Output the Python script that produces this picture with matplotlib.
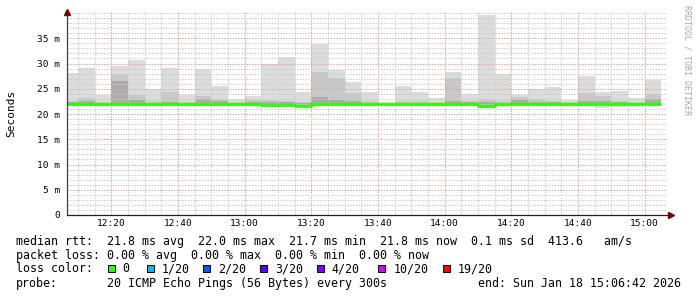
import matplotlib
matplotlib.use("Agg")
import matplotlib.pyplot as plt
from matplotlib.patches import Rectangle
import numpy as np

# 5-minute bins, start time in minutes after 12:00 (12:05 ... 15:00)
bin_start = np.arange(5, 185, 5)

# smoke: highest ping, upper band, inner band, lowest ping, median (ms)
rtt_max = [28.1, 29.1, 23.7, 29.6, 30.6, 24.9, 29.2, 23.7, 28.9, 25.5, 22.9, 23.5,
           30.0, 31.2, 24.3, 33.9, 28.7, 26.3, 24.3, 22.3, 25.5, 24.3, 23.1, 28.3,
           24.0, 39.6, 27.9, 23.8, 24.9, 25.3, 22.8, 27.6, 24.3, 24.6, 23.1, 26.7]
rtt_mid = [22.6, 23.1, 22.4, 28.0, 23.7, 22.5, 24.3, 22.3, 23.6, 23.0, 22.4, 22.8,
           22.8, 22.6, 22.4, 28.3, 27.1, 24.1, 22.6, 22.1, 22.5, 22.5, 22.4, 27.1,
           22.6, 22.9, 22.5, 23.3, 22.9, 22.6, 22.4, 24.1, 23.5, 22.6, 22.3, 24.0]
rtt_inner = [22.3, 22.5, 22.2, 26.5, 22.8, 22.2, 22.3, 22.1, 23.0, 22.5, 22.2, 22.4,
             22.4, 22.3, 22.2, 23.3, 22.8, 22.6, 22.2, 22.0, 22.2, 22.2, 22.1, 22.6,
             22.3, 22.3, 22.2, 22.8, 22.4, 22.3, 22.2, 22.6, 22.6, 22.3, 22.1, 23.0]
rtt_min = [21.6, 21.6, 21.6, 21.6, 21.6, 21.6, 21.6, 21.6, 21.6, 21.6, 21.6, 21.6,
           21.3, 21.3, 21.3, 21.5, 21.5, 21.6, 21.6, 21.6, 21.6, 21.6, 21.6, 21.6,
           21.6, 21.2, 21.5, 21.6, 21.6, 21.6, 21.6, 21.5, 21.2, 21.4, 21.6, 21.6]
rtt_median = [21.9, 21.9, 21.9, 21.9, 21.9, 21.9, 21.9, 21.9, 21.9, 21.9, 21.9, 21.9,
              21.7, 21.7, 21.6, 21.9, 21.9, 21.9, 21.9, 21.9, 21.9, 21.9, 21.9, 21.9,
              22.0, 21.6, 21.9, 21.9, 21.9, 21.9, 21.9, 21.9, 21.9, 21.9, 21.9, 21.9]

x_ticks = [20, 40, 60, 80, 100, 120, 140, 160, 180]
x_labels = ["12:20", "12:40", "13:00", "13:20", "13:40", "14:00", "14:20", "14:40", "15:00"]
y_ticks = [0, 5, 10, 15, 20, 25, 30, 35]
y_labels = ["0", "5 m", "10 m", "15 m", "20 m", "25 m", "30 m", "35 m"]

loss_labels = ["0", "1/20", "2/20", "3/20", "4/20", "10/20", "19/20"]
loss_colors = ["#26ff00", "#00b8ff", "#0059ff", "#5e00ff", "#7e00ff", "#dd00ff", "#ff0000"]

legend_lines = [
    "median rtt:  21.8 ms avg  22.0 ms max  21.7 ms min  21.8 ms now  0.1 ms sd  413.6   am/s",
    "packet loss: 0.00 % avg  0.00 % max  0.00 % min  0.00 % now",
    "loss color:",
    "probe:",
]
probe_text = "20 ICMP Echo Pings (56 Bytes) every 300s"
end_text = "end: Sun Jan 18 15:06:42 2026"

W, H = 697, 297
mono = "DejaVu Sans Mono"

fig = plt.figure(figsize=(W / 100, H / 100), dpi=100)
fig.patch.set_facecolor("white")
ax = fig.add_axes([67 / W, 82 / H, 600 / W, 203 / H])
ax.set_xlim(6.7, 186.7)
ax.set_ylim(0, 40.2)

rmed = np.array(rtt_median)
ax.bar(bin_start, np.array(rtt_max) - np.array(rtt_min), bottom=rtt_min, width=5,
       align="edge", color="#dcdcdc", linewidth=0, zorder=1)
ax.bar(bin_start, np.array(rtt_mid) - (rmed - 0.15), bottom=rmed - 0.15, width=5,
       align="edge", color="#c8c8c8", linewidth=0, zorder=1.1)
ax.bar(bin_start, np.array(rtt_inner) - (rmed - 0.1), bottom=rmed - 0.1, width=5,
       align="edge", color="#ababab", linewidth=0, zorder=1.2)

# median line, stepped
xs = np.append(bin_start, bin_start[-1] + 5)
ys = np.append(rmed, rmed[-1])
ax.step(xs, ys, where="post", color="#26ff00", lw=2.0, zorder=4, solid_capstyle="butt")

# grid
ax.set_xticks(x_ticks)
ax.set_xticklabels(x_labels)
ax.set_xticks(np.arange(10, 185, 5), minor=True)
ax.set_yticks(y_ticks)
ax.set_yticklabels(y_labels)
ax.set_yticks(np.arange(1, 41, 1), minor=True)
ax.set_axisbelow(False)
ax.grid(which="minor", color="#cccccc", ls=(0, (1.4, 1.4)), lw=0.72, zorder=2)
ax.grid(which="major", color="#ee9999", ls=(0, (1.4, 1.4)), lw=0.72, zorder=2.1)

ax.tick_params(which="both", length=0)
ax.tick_params(axis="y", pad=5, labelsize=6.8)
ax.tick_params(axis="x", pad=3, labelsize=6.8)
for lab in ax.get_xticklabels() + ax.get_yticklabels():
    lab.set_fontfamily(mono)

for s in ["top", "right"]:
    ax.spines[s].set_visible(False)
ax.spines["left"].set_color("#404040")
ax.spines["bottom"].set_color("#202020")
ax.spines["left"].set_linewidth(0.9)
ax.spines["bottom"].set_linewidth(0.9)
ax.spines["left"].set_zorder(5)
ax.spines["bottom"].set_zorder(5)

# arrows
ax.plot([0], [1.0], marker="^", markersize=4, color="#7f0000", transform=ax.transAxes,
        clip_on=False, zorder=6)
ax.plot([1.006], [0], marker=">", markersize=4, color="#7f0000", transform=ax.transAxes,
        clip_on=False, zorder=6)

fig.text(11 / W, 1 - 113 / H, "Seconds", rotation=90, ha="center", va="center",
         family=mono, fontsize=8)
fig.text(687 / W, 1 - 60 / H, "RRDTOOL / TOBI OETIKER", rotation=270, ha="center",
         va="center", family=mono, fontsize=6, color="#a8a8a8")

# legend block
line_y = [241, 255, 268.5, 283.3]
for txt, yy in zip(legend_lines, line_y):
    fig.text(16 / W, 1 - yy / H, txt, ha="left", va="center", family=mono, fontsize=8.4)
fig.text(107.3 / W, 1 - line_y[3] / H, probe_text, ha="left", va="center", family=mono, fontsize=8.4)
fig.text(478.3 / W, 1 - line_y[3] / H, end_text, ha="left", va="center", family=mono, fontsize=8.4)

box_x = [107.5, 146.7, 203.3, 260, 316.5, 378.3, 442.7]
for bx, lab, col in zip(box_x, loss_labels, loss_colors):
    fig.patches.append(Rectangle((bx / W, 1 - (line_y[2] + 3.5) / H), 7 / W, 7 / H,
                                 transform=fig.transFigure, facecolor=col,
                                 edgecolor="black", lw=0.72))
    fig.text((bx + 15) / W, 1 - line_y[2] / H, lab, ha="left", va="center",
             family=mono, fontsize=8.4)

fig.savefig("out.png", dpi=100, facecolor="white")
